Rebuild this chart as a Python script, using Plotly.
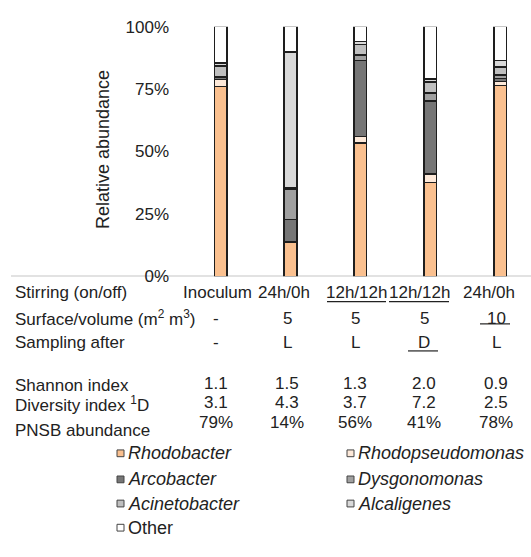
import plotly.graph_objects as go

# ---------------- data ----------------
genera = ["Rhodobacter", "Rhodopseudomonas", "Arcobacter", "Dysgonomonas",
          "Acinetobacter", "Alcaligenes", "Other"]
rhodobacter      = [76.0, 13.5, 53.5, 37.6, 76.5]
rhodopseudomonas = [2.8, 0.5, 2.5, 3.4, 1.5]
arcobacter       = [0.8, 8.8, 30.5, 29.3, 1.3]
dysgonomonas     = [0.4, 11.9, 2.2, 3.2, 1.3]
acinetobacter    = [4.2, 0.6, 4.1, 4.3, 3.2]
alcaligenes      = [1.3, 54.6, 1.3, 1.2, 2.6]
other            = [14.5, 10.1, 5.9, 21.0, 13.6]

stirring  = ["Inoculum", "24h/0h", "12h/12h", "12h/12h", "24h/0h"]
surface   = ["-", "5", "5", "5", "10"]
sampling  = ["-", "L", "L", "D", "L"]
shannon   = ["1.1", "1.5", "1.3", "2.0", "0.9"]
diversity = ["3.1", "4.3", "3.7", "7.2", "2.5"]
pnsb      = ["79%", "14%", "56%", "41%", "78%"]

tick_vals = [0, 25, 50, 75, 100]
tick_text = ["0%", "25%", "50%", "75%", "100%"]

colors = ["#FAC08F", "#FDE9D9", "#767676", "#A0A0A0", "#BFBFBF", "#D9D9D9", "#FFFFFF"]
series = [rhodobacter, rhodopseudomonas, arcobacter, dysgonomonas,
          acinetobacter, alcaligenes, other]

# ---------------- layout helpers ----------------
W, H = 531, 557
FONT = "Liberation Sans, Arial, sans-serif"
TXT = "#222222"
FS = 17

def px_x(p):
    return p / W

def px_y(p):
    return (H - p) / H

xs = list(range(len(stirring)))

fig = go.Figure()
for name, vals, col in zip(genera, series, colors):
    fig.add_trace(go.Bar(
        x=xs, y=vals, name=name, width=0.18,
        marker=dict(color=col, line=dict(color="#1e1e1e", width=1.5)),
        showlegend=False,
    ))

annotations = []
shapes = []

# y axis title
annotations.append(dict(x=px_x(103), y=px_y(146), xref="paper", yref="paper",
                        text="Relative abundance", textangle=-90, showarrow=False,
                        xanchor="center", yanchor="middle",
                        font=dict(family=FONT, size=18, color=TXT)))

# table rows
def row(label, ylab, values, xvals, yval):
    annotations.append(dict(x=px_x(13), y=px_y(ylab), xref="paper", yref="paper",
                            text=label, showarrow=False, xanchor="left", yanchor="middle",
                            font=dict(family=FONT, size=FS, color=TXT)))
    for v, xv in zip(values, xvals):
        annotations.append(dict(x=px_x(xv), y=px_y(yval), xref="paper", yref="paper",
                                text=v, showarrow=False, xanchor="center", yanchor="middle",
                                font=dict(family=FONT, size=FS, color=TXT)))

col_stir = [217, 284, 356, 419, 489]
col_val = [216, 287, 355, 424, 496]
row("Stirring (on/off)", 293, stirring, col_stir, 293)
row("Surface/volume (m<sup>2</sup> m<sup>3</sup>)", 320, surface, col_val, 320)
row("Sampling after", 345, sampling, col_val, 345)
row("Shannon index", 390, shannon, col_val, 388)
row("Diversity index <sup>1</sup>D", 409, diversity, col_val, 407)
row("PNSB abundance", 436, pnsb, col_val, 428)

# underlines
for x0, x1, yy in [(327, 386, 303), (389, 449, 303), (480, 510, 326), (408, 438, 354)]:
    shapes.append(dict(type="line", xref="paper", yref="paper",
                       x0=px_x(x0), x1=px_x(x1), y0=px_y(yy), y1=px_y(yy),
                       line=dict(color=TXT, width=1.2)))

# baseline axis line
shapes.append(dict(type="line", xref="paper", yref="y", x0=px_x(11), x1=1,
                   y0=0, y1=0, line=dict(color="#8c8c8c", width=1.3), layer="below"))

# legend (manual)
leg_x = [117, 347]
leg_y = [460, 487, 512, 537]
for i, (name, col) in enumerate(zip(genera, colors)):
    cx = leg_x[i % 2]
    cy = leg_y[i // 2]
    shapes.append(dict(type="rect", xref="paper", yref="paper",
                       x0=px_x(cx), x1=px_x(cx + 7), y0=px_y(cy - 3.5), y1=px_y(cy + 3.5),
                       fillcolor=col, line=dict(color="#444444", width=1)))
    label = name if name == "Other" else "<i>" + name + "</i>"
    annotations.append(dict(x=px_x(cx + 9), y=px_y(cy), xref="paper", yref="paper",
                            text=label, showarrow=False, xanchor="left", yanchor="middle",
                            font=dict(family=FONT, size=18, color=TXT)))

fig.update_layout(
    barmode="stack",
    width=W, height=H,
    margin=dict(l=0, r=0, t=0, b=0),
    paper_bgcolor="white", plot_bgcolor="white",
    showlegend=False,
    xaxis=dict(domain=[px_x(170), 1], range=[-(220.7 - 170) / 70, 4 + (531 - 500) / 70],
               showticklabels=False, showgrid=False, zeroline=False, showline=False,
               ticks=""),
    yaxis=dict(domain=[px_y(276.8), px_y(18.3)], range=[0, 100],
               tickvals=tick_vals, ticktext=tick_text, showgrid=False, zeroline=False,
               showline=False, ticks="",
               tickfont=dict(family=FONT, size=17, color=TXT)),
    annotations=annotations,
    shapes=shapes,
)

fig.write_html("out.html")
